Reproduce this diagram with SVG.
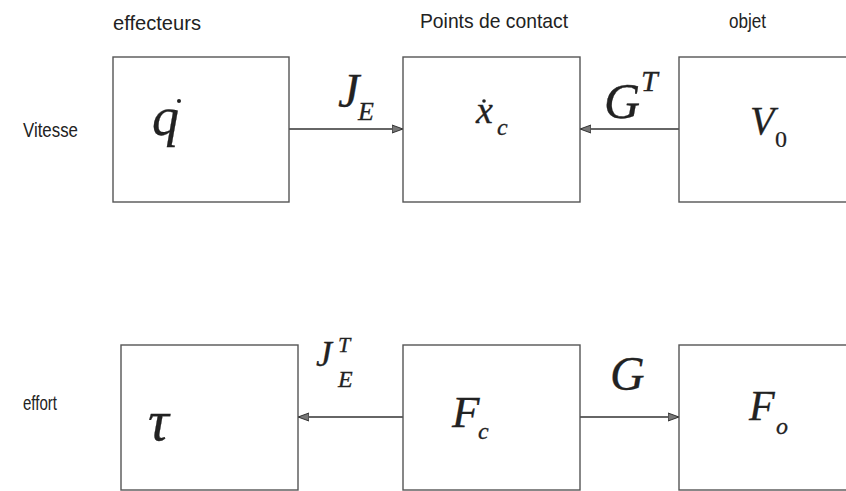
<svg xmlns="http://www.w3.org/2000/svg" width="846" height="491" viewBox="0 0 846 491">
<style>
.box{fill:#fff;stroke:#555;stroke-width:1.4}
.lbl{font-family:"Liberation Sans",Arial,sans-serif;font-size:21px;fill:#222}
.m{font-family:"Liberation Serif","Times New Roman",serif;font-style:italic;fill:#222;stroke:#222;stroke-width:0.3}
.r{font-family:"Liberation Serif","Times New Roman",serif;fill:#222;stroke:#222;stroke-width:0.2}
.con{stroke:#333;stroke-width:1.6;fill:none}
</style>
<defs>
<marker id="ah" markerWidth="12" markerHeight="10" refX="11" refY="5" orient="auto" markerUnits="userSpaceOnUse">
<path d="M0,1 L11,5 L0,9 Z" fill="#777" stroke="#333" stroke-width="1"/>
</marker>
</defs>
<rect width="846" height="491" fill="#fff"/>
<text class="lbl" x="113" y="30" textLength="88" lengthAdjust="spacingAndGlyphs">effecteurs</text>
<text class="lbl" x="420" y="28" textLength="148" lengthAdjust="spacingAndGlyphs">Points de contact</text>
<text class="lbl" x="729" y="28" textLength="37" lengthAdjust="spacingAndGlyphs">objet</text>
<text class="lbl" x="23" y="137" textLength="55" lengthAdjust="spacingAndGlyphs">Vitesse</text>
<text class="lbl" x="23" y="410" textLength="34" lengthAdjust="spacingAndGlyphs">effort</text>
<g id="connectors">
<line class="con" x1="289" y1="129" x2="403" y2="129" marker-end="url(#ah)"/>
<line class="con" x1="679" y1="129" x2="580" y2="129" marker-end="url(#ah)"/>
<line class="con" x1="403" y1="417" x2="298" y2="417" marker-end="url(#ah)"/>
<line class="con" x1="580" y1="417" x2="679" y2="417" marker-end="url(#ah)"/>
<text class="m" x="338" y="107" font-size="48">J</text>
<text class="m" x="358" y="120" font-size="26">E</text>
<text class="m" x="604" y="118" font-size="50">G</text>
<text class="m" x="641" y="91" font-size="30">T</text>
<text class="m" x="316" y="366" font-size="36">J</text>
<text class="m" x="338" y="352" font-size="22">T</text>
<text class="m" x="338" y="387" font-size="24">E</text>
<text class="m" x="610" y="390" font-size="48">G</text>
</g>
<g id="n-qdot">
<rect class="box" x="113" y="57" width="176" height="145"/>
<text class="m" x="152" y="135" font-size="54">q</text>
<circle cx="179" cy="101" r="2" fill="#222"/>
</g>
<g id="n-xdot">
<rect class="box" x="403" y="57" width="177" height="145"/>
<text class="m" x="476" y="123" font-size="38">x</text>
<circle cx="484" cy="101" r="1.8" fill="#222"/>
<text class="m" x="497" y="135" font-size="24">c</text>
</g>
<g id="n-v0">
<rect class="box" x="679" y="57" width="177" height="145"/>
<text class="m" x="750" y="134" font-size="40">V</text>
<text class="r" x="775" y="147" font-size="24">0</text>
</g>
<g id="n-tau">
<rect class="box" x="121" y="345" width="177" height="145"/>
<text class="m" x="148" y="440" font-size="58">τ</text>
</g>
<g id="n-fc">
<rect class="box" x="403" y="345" width="177" height="145"/>
<text class="m" x="452" y="427" font-size="45">F</text>
<text class="m" x="478" y="439" font-size="24">c</text>
</g>
<g id="n-fo">
<rect class="box" x="679" y="345" width="177" height="145"/>
<text class="m" x="749" y="420" font-size="42">F</text>
<text class="m" x="776" y="434" font-size="24">o</text>
</g>
</svg>
